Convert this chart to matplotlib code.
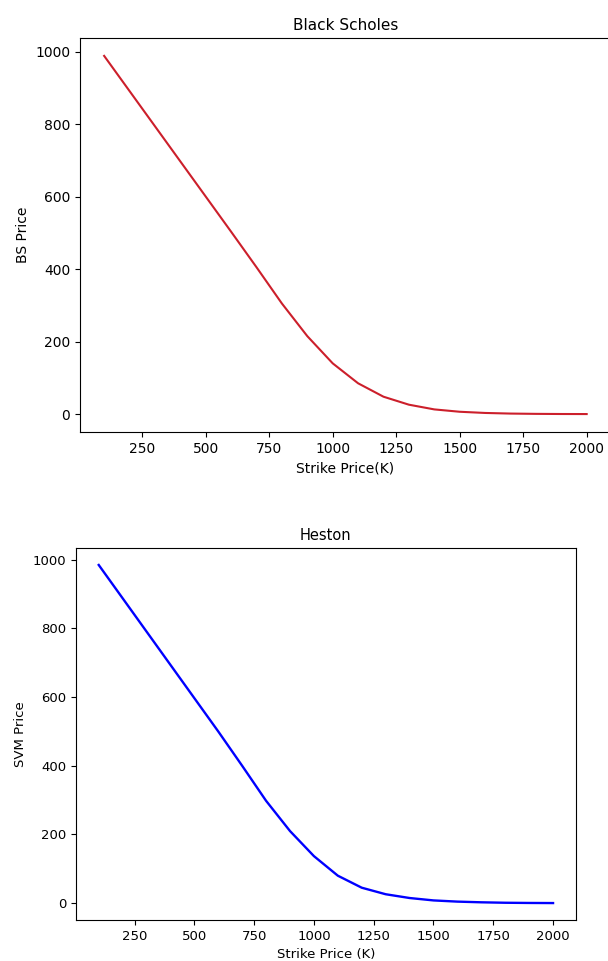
import matplotlib
matplotlib.use('Agg')
import matplotlib.pyplot as plt

# prix d'exercice
strikes = [100, 200, 300, 400, 500, 600, 700, 800, 900, 1000,
           1100, 1200, 1300, 1400, 1500, 1600, 1700, 1800, 1900, 2000]

# prix Black-Scholes
bs_prices = [988, 891, 794, 697, 600, 503, 405, 305, 215, 140,
             85, 48, 26, 13, 6.5, 3.2, 1.5, 0.7, 0.3, 0.15]

# prix Heston
heston_prices = [985, 888, 791, 694, 597, 500, 400, 298, 210, 137,
                 80, 45, 26, 15, 8, 4.5, 2.5, 1.2, 0.6, 0.3]

fig = plt.figure(figsize=(6.08, 9.61), dpi=100)

# graphique du haut : Black Scholes (le bord droit est coupé sur l'original)
ax1 = fig.add_axes([0.1316, 0.5505, 0.873, 0.41])
ax1.plot(strikes, bs_prices, color='#cc1f2b', linewidth=1.5)
ax1.set_title('Black Scholes', fontsize=11)
ax1.set_xlabel('Strike Price(K)', fontsize=10)
ax1.set_ylabel('BS Price', fontsize=10)
ax1.tick_params(labelsize=10)
ax1.set_xticks([250, 500, 750, 1000, 1250, 1500, 1750, 2000])
ax1.spines['right'].set_visible(False)

# graphique du bas : Heston
ax2 = fig.add_axes([0.125, 0.0427, 0.822, 0.387])
ax2.plot(strikes, heston_prices, color='blue', linewidth=1.7)
ax2.set_title('Heston', fontsize=10.5)
ax2.set_xlabel('Strike Price (K)', fontsize=9.5)
ax2.set_ylabel('SVM Price', fontsize=9.5)
ax2.tick_params(labelsize=9.5)
ax2.set_xticks([250, 500, 750, 1000, 1250, 1500, 1750, 2000])

plt.savefig('out.png', dpi=100)
